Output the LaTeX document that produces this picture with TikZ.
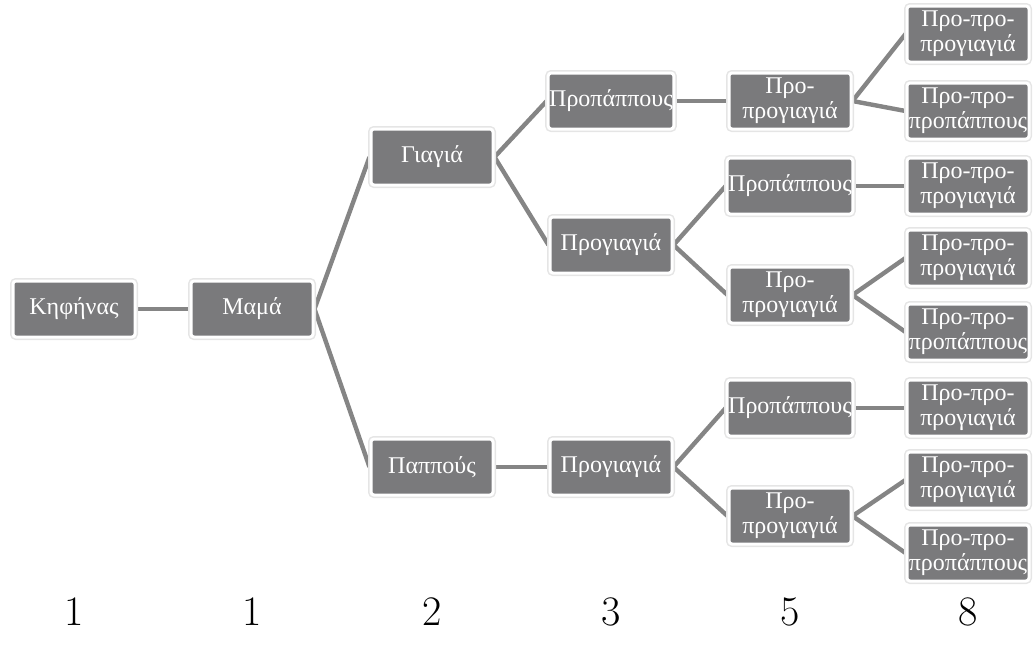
\documentclass[tikz,border=0pt]{standalone}
\usepackage{fontspec}
\newfontfamily\greekfont{Liberation Serif}
\usepackage{xcolor}
\usetikzlibrary{backgrounds}
\definecolor{boxgray}{HTML}{7A7A7C}
\definecolor{linkgray}{HTML}{858585}

\begin{document}
\begin{tikzpicture}[
  x=0.5pt, y=-0.5pt,
  member/.style={rectangle, rounded corners=1.5pt, fill=boxgray, draw=white, line width=1.5pt,
    preaction={draw=gray!20, line width=3pt}, text=white,
    font=\greekfont\fontsize{12}{12.5}\selectfont, align=center,
    minimum width=61pt, minimum height=28pt, inner xsep=0.5pt, inner ysep=1pt},
  link/.style={draw=linkgray, line width=2.2pt},
  count/.style={font=\fontsize{21}{22}\selectfont},
]
\useasboundingbox (0,0) rectangle (1035,644);
% generations 1--3
\node[member] (kif) at (74,309) {Κηφήνας};
\node[member] (mama) at (252,309) {Μαμά};
\node[member] (giagia) at (432,157) {Γιαγιά};
\node[member] (pappous) at (432,467) {Παππούς};
\node[member] (gpap) at (611,101) {Προπάππους};
\node[member] (ggia) at (611,245) {Προγιαγιά};
\node[member] (pgia) at (611,467) {Προγιαγιά};
% generation 4
\node[member] (a) at (790,101) {Προ-\\προγιαγιά};
\node[member] (b) at (790,186) {Προπάππους};
\node[member] (c) at (790,295) {Προ-\\προγιαγιά};
\node[member] (d) at (790,408) {Προπάππους};
\node[member] (e) at (790,516) {Προ-\\προγιαγιά};
% generation 5
\node[member] (f1) at (968,34) {Προ-προ-\\προγιαγιά};
\node[member] (f2) at (968,111) {Προ-προ-\\προπάππους};
\node[member] (f3) at (968,186) {Προ-προ-\\προγιαγιά};
\node[member] (f4) at (968,258) {Προ-προ-\\προγιαγιά};
\node[member] (f5) at (968,332) {Προ-προ-\\προπάππους};
\node[member] (f6) at (968,408) {Προ-προ-\\προγιαγιά};
\node[member] (f7) at (968,480) {Προ-προ-\\προγιαγιά};
\node[member] (f8) at (968,553) {Προ-προ-\\προπάππους};
% counts
\node[count] (n1) at (74,612) {1};
\node[count] (n2) at (252,612) {1};
\node[count] (n3) at (432,612) {2};
\node[count] (n4) at (611,612) {3};
\node[count] (n5) at (790,612) {5};
\node[count] (n6) at (968,612) {8};
\begin{scope}[on background layer]
\draw[link] (kif.east) -- (mama.west);
\draw[link] (mama.east) -- (giagia.west);
\draw[link] (mama.east) -- (pappous.west);
\draw[link] (giagia.east) -- (gpap.west);
\draw[link] (giagia.east) -- (ggia.west);
\draw[link] (pappous.east) -- (pgia.west);
\draw[link] (gpap.east) -- (a.west);
\draw[link] (ggia.east) -- (b.west);
\draw[link] (ggia.east) -- (c.west);
\draw[link] (pgia.east) -- (d.west);
\draw[link] (pgia.east) -- (e.west);
\draw[link] (a.east) -- (f1.west);
\draw[link] (a.east) -- (f2.west);
\draw[link] (b.east) -- (f3.west);
\draw[link] (c.east) -- (f4.west);
\draw[link] (c.east) -- (f5.west);
\draw[link] (d.east) -- (f6.west);
\draw[link] (e.east) -- (f7.west);
\draw[link] (e.east) -- (f8.west);
\end{scope}
\end{tikzpicture}
\end{document}
